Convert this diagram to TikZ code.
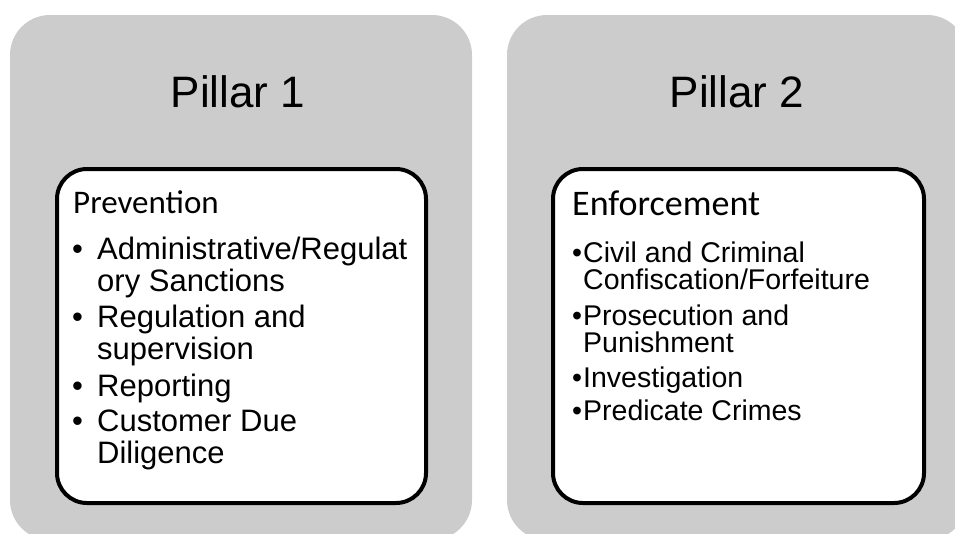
\documentclass[tikz,border=0pt]{standalone}
\usepackage{fontspec}
\setmainfont{Liberation Sans}
\newfontfamily\headfont{Carlito}
\usetikzlibrary{positioning}

\definecolor{pillargray}{RGB}{204,204,204}

\tikzset{
  pillar/.style={fill=pillargray, rounded corners=40pt},
  panel/.style={draw=black, line width=4pt, fill=white, rounded corners=30pt},
  title/.style={anchor=base, inner sep=0pt, font=\fontsize{44}{50}\selectfont},
  heading/.style={anchor=base west, inner sep=0pt, font=\headfont\fontsize{33}{38}\selectfont},
  bulletA/.style={anchor=base west, inner sep=0pt, font=\fontsize{31}{32}\selectfont},
  bulletB/.style={anchor=base west, inner sep=0pt, font=\fontsize{28.5}{27}\selectfont},
  % multi-line entries sit on the baseline of their last line
  entryA/.style={bulletA, align=left},
  entryB/.style={bulletB, align=left},
}

\begin{document}
\begin{tikzpicture}[x=1pt, y=-1pt]
  \useasboundingbox (0,0) rectangle (955,533);
  \clip (0,0) rectangle (955,533);

  % the two pillars
  \path[pillar] (10,15) rectangle (472,540);
  \path[pillar] (507,15) rectangle (967,540);
  \path[panel] (57,169) rectangle (426,503);
  \path[panel] (553,169) rectangle (924,503);

  % pillar 1
  \node[title] (title1) at (238,107) {Pillar 1};
  \node[heading] (prevention) at (73,213) {Prevention};
  \node[bulletA] (dotA1) at (72,259) {\textbullet};
  \node[entryA] (sanctions) at (97,291) {Administrative/Regulat\\ory Sanctions};
  \node[bulletA] (dotA2) at (72,327) {\textbullet};
  \node[entryA] (regulation) at (97,359) {Regulation and\\supervision};
  \node[bulletA] (dotA3) at (72,396) {\textbullet};
  \node[entryA] (reporting) at (97,396) {Reporting};
  \node[bulletA] (dotA4) at (72,431) {\textbullet};
  \node[entryA] (diligence) at (97,463) {Customer Due\\Diligence};

  % pillar 2
  \node[title] (title2) at (737,107) {Pillar 2};
  \node[heading, font=\headfont\fontsize{36}{40}\selectfont] (enforcement) at (572,215) {Enforcement};
  \node[bulletB] (dotB1) at (572,262) {\textbullet};
  \node[entryB] (forfeiture) at (583,289) {Civil and Criminal\\Confiscation/Forfeiture};
  \node[bulletB] (dotB2) at (572,325) {\textbullet};
  \node[entryB] (prosecution) at (583,352) {Prosecution and\\Punishment};
  \node[bulletB] (dotB3) at (572,387) {\textbullet};
  \node[entryB] (investigation) at (583,387) {Investigation};
  \node[bulletB] (dotB4) at (572,420) {\textbullet};
  \node[entryB] (predicate) at (583,420) {Predicate Crimes};
\end{tikzpicture}
\end{document}
